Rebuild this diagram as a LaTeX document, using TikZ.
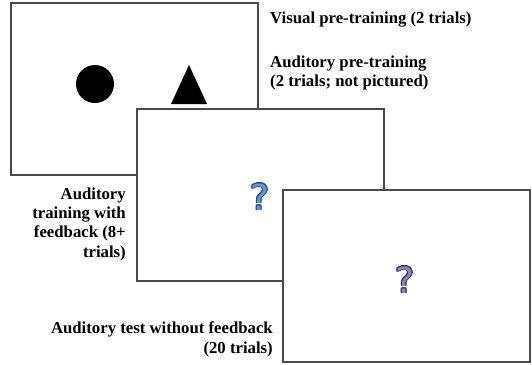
\documentclass[tikz,border=0pt]{standalone}
\usepackage{fontspec}
\setmainfont{Liberation Serif}
\newfontfamily\qfont{DejaVu Sans}
\usepackage{contour}
\contourlength{0.6pt}
\definecolor{framec}{HTML}{4A4A4A}
\definecolor{qblue}{HTML}{5E95DE}
\definecolor{qbluedk}{HTML}{2A4A86}
\definecolor{qpurple}{HTML}{8A82C6}
\definecolor{qpurpledk}{HTML}{3A3460}
\begin{document}
\begin{tikzpicture}[x=1bp,y=-1bp,
  screen/.style={draw=framec, line width=1.3bp, fill=white, minimum width=247bp, minimum height=172bp, inner sep=0pt},
  label/.style={font=\bfseries\fontsize{16.8}{19.3}\selectfont, inner sep=0pt},
  qmark/.style={font=\qfont\fontsize{36}{36}\selectfont, inner sep=0pt}]
\useasboundingbox (0,0) rectangle (532,364);
\node[screen] (s1) at (134.5,89) {};
\node[circle, fill=black, minimum size=38bp, inner sep=0pt] (circ) at (95,84) {};
\fill[black] (189,65) -- (207,104) -- (171,104) -- cycle;
\node[screen] (s2) at (260.5,195) {};
\node[qmark] (q1) at (260,197) {\contour{qbluedk}{\textcolor{qblue}{?}}};
\node[screen] (s3) at (406.5,276) {};
\node[qmark] (q2) at (405,280) {\contour{qpurpledk}{\textcolor{qpurple}{?}}};
\node[label, anchor=base west] (t1) at (270,23) {Visual pre-training (2 trials)};
\node[label, anchor=base west, align=left] (t2) at (270,86.5) {Auditory pre-training\\(2 trials; not pictured)};
\node[label, anchor=base east, align=right] (t3) at (126,257) {Auditory\\training with\\feedback (8+\\trials)};
\node[label, anchor=base east, align=right] (t4) at (273,353) {Auditory test without feedback\\(20 trials)};
\end{tikzpicture}
\end{document}
